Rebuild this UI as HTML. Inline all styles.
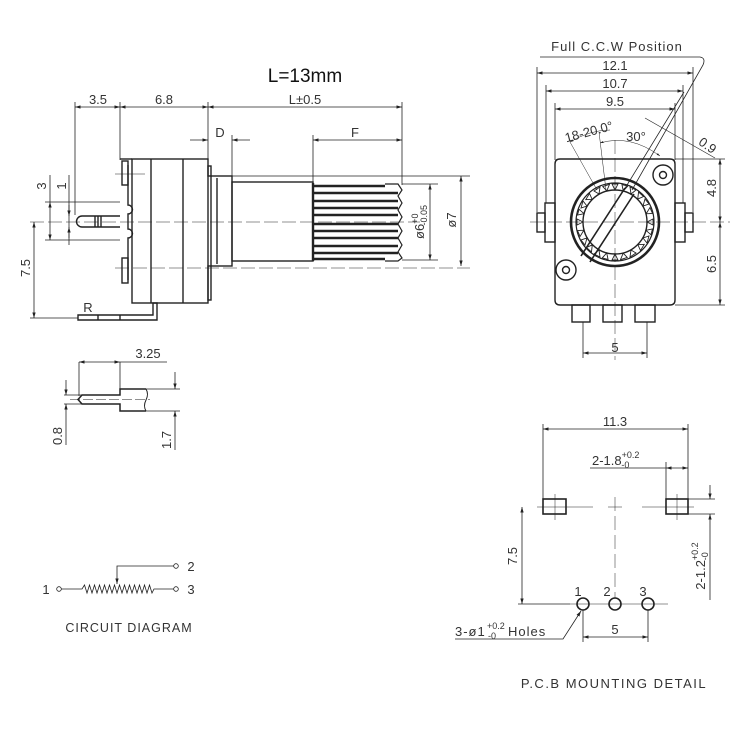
<!DOCTYPE html>
<html><head><meta charset="utf-8"><style>
html,body{margin:0;padding:0;background:#fff;}
svg{display:block;}
text{font-family:"Liberation Sans",sans-serif;fill:#333;}
</style></head><body>
<svg width="734" height="734" viewBox="0 0 734 734" xmlns="http://www.w3.org/2000/svg">
<defs>
<marker id="a" viewBox="0 0 10 10" refX="10" refY="5" markerWidth="7" markerHeight="7" orient="auto-start-reverse"><path d="M0,2 L10,5 L0,8 z" fill="#222"/></marker>
</defs>
<g stroke="#222" fill="none" stroke-width="0.8">
<line x1="75" y1="107" x2="120" y2="107" marker-start="url(#a)" marker-end="url(#a)"/>
<line x1="120" y1="107" x2="208" y2="107" marker-start="url(#a)" marker-end="url(#a)"/>
<line x1="208" y1="107" x2="402" y2="107" marker-start="url(#a)" marker-end="url(#a)"/>
<line x1="75" y1="102" x2="75" y2="215"/>
<line x1="120" y1="102" x2="120" y2="160"/>
<line x1="208" y1="102" x2="208" y2="176"/>
<line x1="402" y1="102" x2="402" y2="185"/>
<line x1="190" y1="140" x2="208" y2="140" marker-end="url(#a)"/>
<line x1="250" y1="140" x2="232" y2="140" marker-end="url(#a)"/>
<line x1="232" y1="135" x2="232" y2="176"/>
<line x1="313" y1="140" x2="402" y2="140" marker-start="url(#a)" marker-end="url(#a)"/>
<line x1="313" y1="135" x2="313" y2="183"/>
<g stroke-width="1.4">
<rect x="132" y="159" width="76" height="144"/>
<line x1="120" y1="159" x2="132" y2="159"/>
<line x1="151" y1="159" x2="151" y2="303"/>
<line x1="183" y1="159" x2="183" y2="303"/>
<rect x="122" y="161" width="6" height="24"/>
<rect x="122" y="258" width="6" height="25"/>
<path d="M128,165 V205 a4,4 0 0 1 0,9 V229 a4,4 0 0 1 0,9 V280"/>
<rect x="208" y="166" width="3" height="10"/>
<rect x="208" y="266" width="3" height="34"/>
<rect x="211" y="176" width="21" height="90"/>
<line x1="217" y1="178" x2="217" y2="264"/>
<rect x="232" y="182" width="81" height="79"/>
<path d="M120,216 H82 a5.5,5.5 0 0 0 0,11 H120"/>
<line x1="95" y1="216" x2="95" y2="227"/><line x1="98" y1="216" x2="98" y2="227"/><line x1="101" y1="216" x2="101" y2="227"/>
<path d="M78,315 H153 V303 H157 V320 H78 Z"/>
<line x1="98" y1="315" x2="98" y2="320"/><line x1="120" y1="315" x2="120" y2="320"/>
</g>
<g stroke-width="2.4">
<line x1="313" y1="183" x2="313" y2="261"/>
<line x1="313" y1="186" x2="385" y2="186"/>
<line x1="313" y1="193" x2="398" y2="193"/>
<line x1="313" y1="201" x2="398" y2="201"/>
<line x1="313" y1="208" x2="398" y2="208"/>
<line x1="313" y1="215" x2="398" y2="215"/>
<line x1="313" y1="224" x2="398" y2="224"/>
<line x1="313" y1="231" x2="398" y2="231"/>
<line x1="313" y1="238" x2="398" y2="238"/>
<line x1="313" y1="246" x2="398" y2="246"/>
<line x1="313" y1="253" x2="398" y2="253"/>
<line x1="313" y1="259" x2="385" y2="259"/>
</g>
<path d="M385,184 H398 L402,190 L398,196 L402,203 L398,210 L402,217 L398,224 L402,231 L398,238 L402,245 L398,252 L402,258 L398,261 H385" stroke-width="1.2"/>
<line x1="30" y1="222" x2="420" y2="222" stroke-dasharray="14,4" stroke-width="0.5"/>
<line x1="115" y1="268" x2="470" y2="268" stroke-dasharray="14,4" stroke-width="0.5"/>
<line x1="115" y1="174" x2="145" y2="174" stroke-width="0.5"/>
<line x1="232" y1="176" x2="470" y2="176"/>
<line x1="402" y1="184" x2="438" y2="184"/>
<line x1="402" y1="260" x2="438" y2="260"/>
<line x1="430" y1="184" x2="430" y2="260" marker-start="url(#a)" marker-end="url(#a)"/>
<line x1="461" y1="176" x2="461" y2="266" marker-start="url(#a)" marker-end="url(#a)"/>
<line x1="45" y1="202" x2="120" y2="202"/>
<line x1="45" y1="240" x2="120" y2="240"/>
<line x1="50" y1="202" x2="50" y2="240" marker-start="url(#a)" marker-end="url(#a)"/>
<line x1="50" y1="175" x2="50" y2="202"/>
<line x1="69" y1="175" x2="69" y2="245"/>
<line x1="69" y1="205" x2="69" y2="216" marker-end="url(#a)"/>
<line x1="69" y1="238" x2="69" y2="227" marker-end="url(#a)"/>
<line x1="30" y1="318" x2="78" y2="318"/>
<line x1="34" y1="222" x2="34" y2="318" marker-start="url(#a)" marker-end="url(#a)"/>

<line x1="537" y1="73" x2="693" y2="73" marker-start="url(#a)" marker-end="url(#a)"/>
<line x1="546" y1="91" x2="683" y2="91" marker-start="url(#a)" marker-end="url(#a)"/>
<line x1="555" y1="109" x2="675" y2="109" marker-start="url(#a)" marker-end="url(#a)"/>
<line x1="537" y1="67" x2="537" y2="212"/>
<line x1="693" y1="67" x2="693" y2="212"/>
<line x1="546" y1="85" x2="546" y2="203"/>
<line x1="683" y1="85" x2="683" y2="203"/>
<line x1="555" y1="103" x2="555" y2="160"/>
<line x1="675" y1="103" x2="675" y2="160"/>
<path d="M540,57 H700 Q706,58 703,65 L632,190"/>
<line x1="624" y1="190" x2="684" y2="92"/>
<g stroke-width="1.4">
<path d="M560,159 H670 Q675,159 675,164 V300 Q675,305 670,305 H560 Q555,305 555,300 V164 Q555,159 560,159 Z"/>
<rect x="545" y="203" width="10" height="39"/><rect x="537" y="213" width="8" height="19"/>
<rect x="675" y="203" width="10" height="39"/><rect x="685" y="213" width="8" height="19"/>
<rect x="572" y="305" width="18" height="17"/><rect x="603" y="305" width="19" height="17"/><rect x="635" y="305" width="20" height="17"/>
<circle cx="663" cy="175" r="10"/><circle cx="663" cy="175" r="3.5"/>
<circle cx="566" cy="270" r="10"/><circle cx="566" cy="270" r="3.5"/>
</g>
<circle cx="615" cy="222" r="44" stroke-width="2.6"/>
<circle cx="615" cy="222" r="39" stroke-width="1.2"/>
<circle cx="615" cy="222" r="32" stroke-width="1.4"/>
<g stroke-width="0.9" id="tri">
<path d="M615,190 l-3,-6 h6 z M631,194 l-1,-7 l6,3 z M643,206 l2,-7 l4,5 z M647,222 l6,-3 v6 z M643,238 l6,-2 l-2,7 z M631,250 l5,3 l-6,4 z M615,254 l3,6 h-6 z M599,250 l1,7 l-6,-3 z M587,238 l-2,7 l-4,-5 z M583,222 l-6,3 v-6 z M587,206 l-6,2 l2,-7 z M599,194 l-5,-3 l6,-4 z"/>
</g>
<g transform="rotate(15 615 222)"><use href="#tri"/></g>
<path d="M625,188 L581,256 M634,194 L590,262" stroke-width="1.6"/>
<line x1="530" y1="222" x2="730" y2="222" stroke-dasharray="14,4" stroke-width="0.5"/>
<line x1="615" y1="140" x2="615" y2="360" stroke-dasharray="14,4" stroke-width="0.5"/>
<line x1="570" y1="142" x2="597" y2="190" stroke-width="0.5"/>
<line x1="599" y1="132" x2="606" y2="190" stroke-width="0.5"/>
<path d="M570,142 Q590,130 610,130" stroke-width="0.5" marker-start="url(#a)"/>
<path d="M600,143 Q630,134 660,156" stroke-width="0.5" marker-start="url(#a)" marker-end="url(#a)"/>
<line x1="645" y1="118" x2="715" y2="158" stroke-width="0.6"/>
<line x1="675" y1="159" x2="725" y2="159"/>
<line x1="675" y1="305" x2="725" y2="305"/>
<line x1="720" y1="159" x2="720" y2="222" marker-start="url(#a)" marker-end="url(#a)"/>
<line x1="720" y1="222" x2="720" y2="305" marker-start="url(#a)" marker-end="url(#a)"/>
<line x1="583" y1="322" x2="583" y2="358"/><line x1="647" y1="322" x2="647" y2="358"/>
<line x1="583" y1="353" x2="647" y2="353" marker-start="url(#a)" marker-end="url(#a)"/>

<line x1="79" y1="362" x2="120" y2="362" marker-start="url(#a)" marker-end="url(#a)"/>
<line x1="120" y1="362" x2="167" y2="362"/>
<line x1="79" y1="362" x2="79" y2="396"/><line x1="120" y1="362" x2="120" y2="389"/>
<path d="M146,389 H120 V395 H82 L78,399.5 L82,404 H120 V411 H146" stroke-width="1.5"/>
<path d="M146,389 q3,5 0,11 q-3,6 0,11" stroke-width="1"/>
<line x1="70" y1="399.5" x2="150" y2="399.5" stroke-dasharray="10,3" stroke-width="0.5"/>
<line x1="146" y1="389" x2="180" y2="389"/><line x1="146" y1="411" x2="180" y2="411"/>
<line x1="175" y1="372" x2="175" y2="389" marker-end="url(#a)"/>
<line x1="175" y1="450" x2="175" y2="411" marker-end="url(#a)"/>
<line x1="64" y1="395" x2="82" y2="395"/><line x1="64" y1="404" x2="82" y2="404"/>
<line x1="66" y1="380" x2="66" y2="395" marker-end="url(#a)"/>
<line x1="66" y1="445" x2="66" y2="404" marker-end="url(#a)"/>

<circle cx="59" cy="589" r="2.3"/><circle cx="176" cy="589" r="2.3"/><circle cx="176" cy="566" r="2.3"/>
<path d="M61,589 H82 l2.5,-4 l2.5,8 l2.5,-8 l2.5,8 l2.5,-8 l2.5,8 l2.5,-8 l2.5,8 l2.5,-8 l2.5,8 l2.5,-8 l2.5,8 l2.5,-8 l2.5,8 l2.5,-8 l2.5,8 l2.5,-8 l2.5,8 l2.5,-8 l2.5,8 l2.5,-8 l2.5,8 l2.5,-8 l2.5,8 l2.5,-8 l2.5,8 l2.5,-8 l2.5,8 l2,-4 H174"/>
<path d="M174,566 H117 V584" marker-end="url(#a)"/>

<line x1="543" y1="429" x2="688" y2="429" marker-start="url(#a)" marker-end="url(#a)"/>
<line x1="543" y1="424" x2="543" y2="499"/><line x1="688" y1="424" x2="688" y2="499"/>
<line x1="590" y1="468" x2="666" y2="468"/>
<line x1="666" y1="468" x2="688" y2="468" marker-start="url(#a)" marker-end="url(#a)"/>
<line x1="666" y1="462" x2="666" y2="499"/>
<rect x="543" y="499" width="23" height="15" stroke-width="1.6"/>
<rect x="666" y="499" width="22" height="15" stroke-width="1.6"/>
<line x1="537" y1="507" x2="593" y2="507" stroke-width="0.5"/>
<line x1="642" y1="507" x2="694" y2="507" stroke-width="0.5"/>
<line x1="608" y1="507" x2="622" y2="507" stroke-width="0.5"/>
<line x1="555" y1="494" x2="555" y2="520" stroke-width="0.5"/>
<line x1="677" y1="494" x2="677" y2="520" stroke-width="0.5"/>
<line x1="615" y1="497" x2="615" y2="598" stroke-dasharray="14,5" stroke-width="0.5"/>
<line x1="688" y1="499" x2="715" y2="499"/><line x1="688" y1="514" x2="715" y2="514"/>
<line x1="710" y1="485" x2="710" y2="499" marker-end="url(#a)"/>
<line x1="710" y1="600" x2="710" y2="514" marker-end="url(#a)"/>
<line x1="522" y1="507" x2="522" y2="604" marker-start="url(#a)" marker-end="url(#a)"/>
<line x1="518" y1="604" x2="570" y2="604"/>
<circle cx="583" cy="604" r="6" stroke-width="1.6"/>
<circle cx="615" cy="604" r="6" stroke-width="1.6"/>
<circle cx="648" cy="604" r="6" stroke-width="1.6"/>
<line x1="570" y1="604" x2="668" y2="604" stroke-width="0.5"/>
<line x1="583" y1="610" x2="583" y2="642"/><line x1="648" y1="610" x2="648" y2="642"/>
<line x1="583" y1="637" x2="648" y2="637" marker-start="url(#a)" marker-end="url(#a)"/>
<path d="M455,639 H563 L581,611" marker-end="url(#a)"/>
</g>

<text x="305" y="82" font-size="19" text-anchor="middle" style="fill:#111">L=13mm</text>
<g font-size="13">
<text x="98" y="104" text-anchor="middle">3.5</text>
<text x="164" y="104" text-anchor="middle">6.8</text>
<text x="305" y="104" text-anchor="middle">L±0.5</text>
<text x="220" y="137" text-anchor="middle">D</text>
<text x="355" y="137" text-anchor="middle">F</text>
<text x="88" y="312" text-anchor="middle">R</text>
<text transform="translate(46,186) rotate(-90)" text-anchor="middle">3</text>
<text transform="translate(66,186) rotate(-90)" text-anchor="middle">1</text>
<text transform="translate(30,268) rotate(-90)" text-anchor="middle">7.5</text>
<text transform="translate(424,222) rotate(-90)" text-anchor="middle">ø6<tspan font-size="9" dy="-6">+0</tspan><tspan font-size="9" dx="-12" dy="9">-0.05</tspan></text>
<text transform="translate(456,220) rotate(-90)" text-anchor="middle">ø7</text>
<text x="617" y="51" text-anchor="middle" letter-spacing="1">Full C.C.W Position</text>
<text x="615" y="70" text-anchor="middle">12.1</text>
<text x="615" y="88" text-anchor="middle">10.7</text>
<text x="615" y="106" text-anchor="middle">9.5</text>
<text transform="translate(590,136) rotate(-15)" text-anchor="middle">18-20.0°</text>
<text x="636" y="141" text-anchor="middle">30°</text>
<text transform="translate(705,149) rotate(35)" text-anchor="middle">0.9</text>
<text transform="translate(716,188) rotate(-90)" text-anchor="middle">4.8</text>
<text transform="translate(716,264) rotate(-90)" text-anchor="middle">6.5</text>
<text x="615" y="352" text-anchor="middle">5</text>
<text x="148" y="358" text-anchor="middle">3.25</text>
<text transform="translate(62,436) rotate(-90)" text-anchor="middle">0.8</text>
<text transform="translate(171,440) rotate(-90)" text-anchor="middle">1.7</text>
<text x="46" y="594" text-anchor="middle">1</text>
<text x="191" y="571" text-anchor="middle">2</text>
<text x="191" y="594" text-anchor="middle">3</text>
<text x="129" y="632" text-anchor="middle" font-size="12.5" letter-spacing="1">CIRCUIT DIAGRAM</text>
<text x="615" y="426" text-anchor="middle">11.3</text>
<text x="592" y="465">2-1.8<tspan font-size="9" dy="-7">+0.2</tspan><tspan font-size="9" dx="-18" dy="10">-0</tspan></text>
<text transform="translate(517,556) rotate(-90)" text-anchor="middle">7.5</text>
<text transform="translate(705,566) rotate(-90)" text-anchor="middle">2-1.2<tspan font-size="9" dy="-7">+0.2</tspan><tspan font-size="9" dx="-18" dy="10">-0</tspan></text>
<text x="578" y="596" text-anchor="middle">1</text>
<text x="607" y="596" text-anchor="middle">2</text>
<text x="643" y="596" text-anchor="middle">3</text>
<text x="615" y="634" text-anchor="middle">5</text>
<text x="455" y="636" letter-spacing="1">3-ø1</text>
<text x="487" y="629" font-size="9">+0.2</text>
<text x="488" y="639" font-size="9">-0</text>
<text x="508" y="636" letter-spacing="1">Holes</text>
<text x="614" y="688" text-anchor="middle" letter-spacing="1.5">P.C.B MOUNTING DETAIL</text>
</g>
</svg>
</body></html>
